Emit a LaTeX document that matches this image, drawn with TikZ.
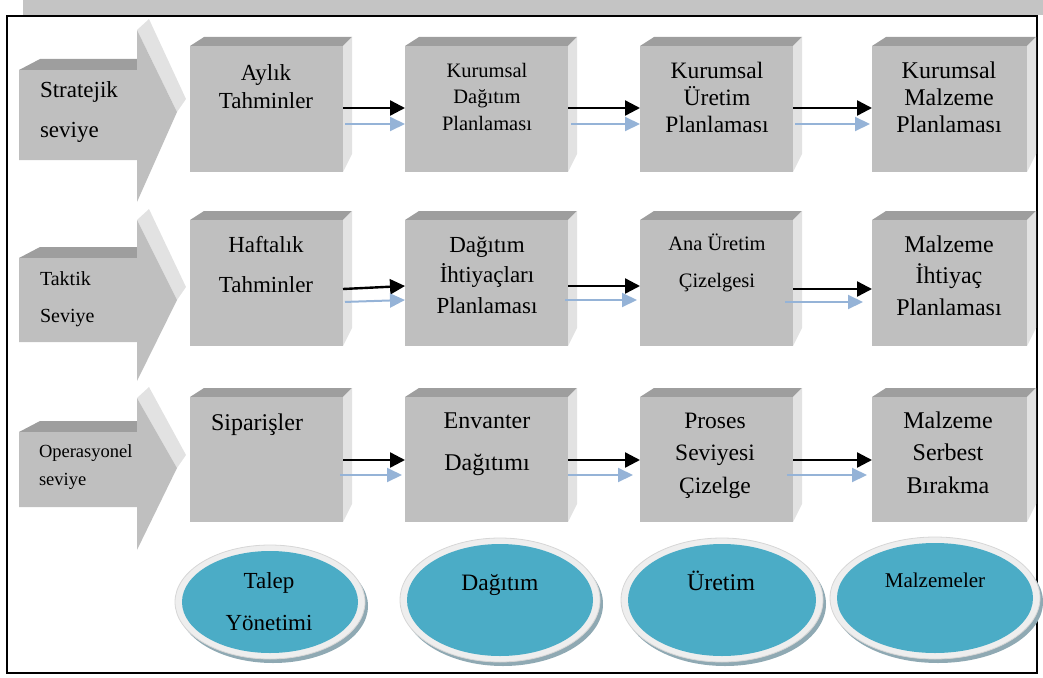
\documentclass[tikz,border=0pt]{standalone}
\usepackage{fontspec}
\setmainfont{Liberation Serif}
\usetikzlibrary{arrows.meta,shapes.geometric,calc}

\definecolor{frontgray}{HTML}{BFBFBF}
\definecolor{topgray}{HTML}{9E9E9E}
\definecolor{sidegray}{HTML}{E2E2E2}
\definecolor{bandgray}{HTML}{C4C4C4}
\definecolor{blobteal}{HTML}{4BACC6}
\definecolor{rimgray}{HTML}{EEEEEE}
\definecolor{rimedge}{HTML}{D6D6D6}
\definecolor{shadowblue}{HTML}{8FA9B3}
\definecolor{flowblue}{HTML}{95B3D7}

\tikzset{
  frontbox/.style={rectangle, fill=frontgray, draw=none, inner sep=0pt, outer sep=0pt},
  lbl/.style 2 args={anchor=north, inner sep=0pt, outer sep=0pt, align=center,
    font=\fontsize{#1}{#2}\selectfont},
  lbll/.style 2 args={anchor=north west, inner sep=0pt, outer sep=0pt, align=left,
    font=\fontsize{#1}{#2}\selectfont},
  blk/.style={line width=2.4pt, black, -{Triangle[length=15pt,width=15pt]}},
  blu/.style={line width=2pt, flowblue, -{Triangle[length=15pt,width=14pt]}},
}

% 3D box: name, left, top, right, bottom (y grows downward)
\newcommand{\cuboid}[5]{%
  \fill[topgray] (#2,#3) -- (#2+14,#3-9) -- (#4+9,#3-9) -- (#4,#3) -- cycle;
  \fill[sidegray] (#4,#3) -- (#4+9,#3-9) -- (#4+9,#5-18) -- (#4,#5) -- cycle;
  \node[frontbox, minimum width={#4-#2}, minimum height={#5-#3}] (#1)
    at ({(#2+#4)/2},{(#3+#5)/2}) {};
}

% block arrow for a planning level: body top, body bottom, head top, tip, head bottom
\newcommand{\levelarrow}[5]{%
  \fill[topgray] (19,#1) -- (40,#1-11) -- (137,#1-11) -- (137,#1) -- cycle;
  \fill[sidegray] (137,#3) -- (149,#3-11) -- (186,#4-13) -- (177,#4) -- cycle;
  \fill[frontgray] (19,#1) -- (137,#1) -- (137,#3) -- (177,#4) -- (137,#5)
    -- (137,#2) -- (19,#2) -- cycle;
}

% function ellipse with light rim and soft shadow: name, cx, cy, rx, ry
\newcommand{\blob}[5]{%
  \fill[shadowblue] (#2+3,#3+4) ellipse [x radius=#4, y radius=#5];
  \filldraw[fill=rimgray, draw=rimedge, line width=0.8pt] (#2,#3) ellipse [x radius=#4, y radius=#5];
  \node[ellipse, fill=blobteal, draw=none, inner sep=0pt,
    minimum width={2*#4-14}, minimum height={2*#5-12}] (#1) at (#2,#3) {};
}

\begin{document}
\begin{tikzpicture}[x=1pt,y=-1pt]
\useasboundingbox (0,0) rectangle (1043,677);

% page frame
\fill[bandgray] (23,0) rectangle (1043,15);
\draw[line width=2pt] (7,16) rectangle (1037,673);

% levels
\levelarrow{70}{160}{30}{112}{202}
\levelarrow{258}{342}{220}{300}{381}
\levelarrow{432}{507}{398}{468}{550}
\node[lbll={23}{40}] (lvS) at (40,97-23) {\rule{0pt}{1em}Stratejik\\seviye};
\node[lbll={20}{37}] (lvT) at (40,285-20) {\rule{0pt}{1em}Taktik\\Seviye};
\node[lbll={18.5}{28}] (lvO) at (39,457-18.5) {\rule{0pt}{1em}Operasyonel\\seviye};

% boxes
\cuboid{b11}{190}{46}{343}{172}
\cuboid{b12}{405}{46}{568}{172}
\cuboid{b13}{640}{46}{793}{172}
\cuboid{b14}{872}{46}{1027}{172}
\cuboid{b21}{190}{220}{343}{346}
\cuboid{b22}{405}{220}{568}{346}
\cuboid{b23}{640}{220}{793}{346}
\cuboid{b24}{872}{220}{1027}{346}
\cuboid{b31}{190}{397}{343}{522}
\cuboid{b32}{405}{397}{568}{522}
\cuboid{b33}{640}{397}{793}{522}
\cuboid{b34}{872}{397}{1027}{522}

% box texts
\node[lbl={23}{28}] (t11) at (266,80-23) {\rule{0pt}{1em}Aylık\\Tahminler};
\node[lbl={20.5}{26.5}] (t12) at (487,77-20.5) {\rule{0pt}{1em}Kurumsal\\Dağıtım\\Planlaması};
\node[lbl={23.5}{27}] (t13) at (717,78-23.5) {\rule{0pt}{1em}Kurumsal\\Üretim\\Planlaması};
\node[lbl={24}{27}] (t14) at (949,78-24) {\rule{0pt}{1em}Kurumsal\\Malzeme\\Planlaması};
\node[lbl={23}{40}] (t21) at (266,252-23) {\rule{0pt}{1em}Haftalık\\Tahminler};
\node[lbl={23}{30.5}] (t22) at (487,252-23) {\rule{0pt}{1em}Dağıtım\\İhtiyaçları\\Planlaması};
\node[lbl={20.5}{37}] (t23) at (717,250-20.5) {\rule{0pt}{1em}Ana Üretim\\Çizelgesi};
\node[lbl={24}{31.5}] (t24) at (949,252-24) {\rule{0pt}{1em}Malzeme\\İhtiyaç\\Planlaması};
\node[lbll={24}{30}] (t31) at (211,430-24) {\rule{0pt}{1em}Siparişler};
\node[lbl={24}{42}] (t32) at (487,428-24) {\rule{0pt}{1em}Envanter\\Dağıtımı};
\node[lbl={23.5}{32.5}] (t33) at (715,428-23.5) {\rule{0pt}{1em}Proses\\Seviyesi\\Çizelge};
\node[lbl={24}{32.5}] (t34) at (948,428-24) {\rule{0pt}{1em}Malzeme\\Serbest\\Bırakma};

% flow levels
\coordinate (k1) at (0,108);  \coordinate (u1) at (0,124);
\coordinate (k2) at (0,286);  \coordinate (u2) at (0,300);
\coordinate (k2a) at (0,289); \coordinate (u2a) at (0,302);
\coordinate (k3) at (0,460);  \coordinate (u3) at (0,475);

% row 1
\draw[blk] (b11.east |- k1) -- (b12.west |- k1);
\draw[blu, shorten <=2pt] (b11.east |- u1) -- (b12.west |- u1);
\draw[blk] (b12.east |- k1) -- (b13.west |- k1);
\draw[blu, shorten <=3pt] (b12.east |- u1) -- (b13.west |- u1);
\draw[blk] (b13.east |- k1) -- (b14.west |- k1);
\draw[blu, shorten <=2pt, shorten >=2pt] (b13.east |- u1) -- (b14.west |- u1);
% row 2
\draw[blk] (b21.east |- k2a) -- (b22.west |- k2);
\draw[blu, shorten <=2pt] (b21.east |- u2a) -- (b22.west |- u2);
\draw[blk] (b22.east |- k2) -- (b23.west |- k2);
\draw[blu, shorten <=-3pt, shorten >=3pt] (b22.east |- u2) -- (b23.west |- u2);
\draw[blk] (b23.east |- k2a) -- (b24.west |- k2a);
\draw[blu, shorten <=-8pt, shorten >=9pt] (b23.east |- u2a) -- (b24.west |- u2a);
% row 3
\draw[blk] (b31.east |- k3) -- (b32.west |- k3);
\draw[blu, shorten <=-3pt, shorten >=3pt] (b31.east |- u3) -- (b32.west |- u3);
\draw[blk] (b32.east |- k3) -- (b33.west |- k3);
\draw[blu, shorten >=7pt] (b32.east |- u3) -- (b33.west |- u3);
\draw[blk] (b33.east |- k3) -- (b34.west |- k3);
\draw[blu, shorten <=-6pt, shorten >=5pt] (b33.east |- u3) -- (b34.west |- u3);

% functions
\blob{e1}{270}{602}{95}{57}
\blob{e2}{500}{600}{100}{62}
\blob{e3}{722}{600}{101}{62}
\blob{e4}{935}{598}{105}{61}
\node[lbl={23}{42}] (f1) at (269,588-23) {\rule{0pt}{1em}Talep\\Yönetimi};
\node[lbl={23.5}{28}] (f2) at (500,590-23.5) {\rule{0pt}{1em}Dağıtım};
\node[lbl={24}{28}] (f3) at (721,590-24) {\rule{0pt}{1em}Üretim};
\node[lbl={21}{28}] (f4) at (935,587-21) {\rule{0pt}{1em}Malzemeler};

\end{tikzpicture}
\end{document}
